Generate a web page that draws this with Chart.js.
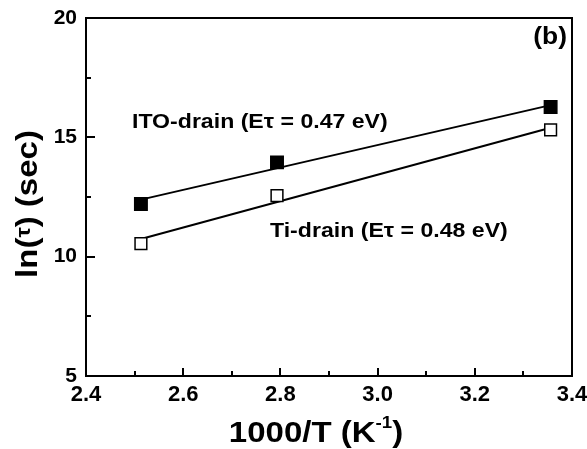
<!DOCTYPE html>
<html>
<head>
<meta charset="utf-8">
<script src="https://cdn.jsdelivr.net/npm/chart.js@4"></script>
<style>
  html, body { margin: 0; padding: 0; background: #fff; }
  #wrap { width: 587px; height: 449px; }
</style>
</head>
<body>
<div id="wrap"><canvas id="chart" width="587" height="449"></canvas></div>
<script>
// data
const invT = [2.513, 2.793, 3.356];
const itoTau = [12.21, 13.95, 16.27];
const tiTau = [10.55, 12.56, 15.31];
// fitted lines, end points only
const fitX = [2.513, 3.356];
const itoFit = [12.39, 16.35];
const tiFit = [10.74, 15.40];

const xTicks = [2.4, 2.6, 2.8, 3.0, 3.2, 3.4];
const yTicks = [5, 10, 15, 20];

const FONT = "'Liberation Sans', Arial, sans-serif";
const WIDE = 1.1; // reference glyphs run a bit wider than Liberation Sans

const toPoints = (xs, ys) => xs.map((x, i) => ({ x: x, y: ys[i] }));

// draws text stretched sideways, left edge at x
const wideText = (ctx, str, x, y) => {
    ctx.save();
    ctx.translate(x, y);
    ctx.scale(WIDE, 1);
    ctx.fillText(str, 0, 0);
    ctx.restore();
};

const frameAndText = {
    id: "frameAndText",
    afterDraw(chart) {
        const ctx = chart.ctx;
        const a = chart.chartArea;
        const xs = chart.scales.x;
        const ys = chart.scales.y;
        ctx.save();
        ctx.strokeStyle = "#000";
        ctx.lineWidth = 2;
        ctx.strokeRect(a.left, a.top, a.right - a.left, a.bottom - a.top);

        // inward ticks on bottom and left
        ctx.beginPath();
        for (let v = 2.5; v < 3.4; v += 0.1) {
            const px = Math.round(xs.getPixelForValue(v));
            const major = Math.abs(Math.round(v * 10) % 2) === 0;
            ctx.moveTo(px, a.bottom);
            ctx.lineTo(px, a.bottom - (major ? 8 : 5));
        }
        for (let v = 7.5; v < 20; v += 2.5) {
            const py = Math.round(ys.getPixelForValue(v));
            const major = v % 5 === 0;
            ctx.moveTo(a.left, py);
            ctx.lineTo(a.left + (major ? 9 : 5), py);
        }
        ctx.stroke();

        ctx.fillStyle = "#000";
        ctx.textBaseline = "alphabetic";
        ctx.textAlign = "left";
        ctx.font = "bold 21px " + FONT;
        wideText(ctx, "ITO-drain (E\u03c4 = 0.47 eV)", 132, 128);
        wideText(ctx, "Ti-drain (E\u03c4 = 0.48 eV)", 270, 237);
        ctx.font = "bold 24px " + FONT;
        const wb = ctx.measureText("(b)").width * WIDE;
        wideText(ctx, "(b)", 567 - wb, 44);

        // x axis title
        ctx.font = "bold 30px " + FONT;
        const t1 = "1000/T (K";
        const w1 = ctx.measureText(t1).width * WIDE;
        ctx.font = "bold 17px " + FONT;
        const wSup = ctx.measureText("-1").width * WIDE;
        ctx.font = "bold 30px " + FONT;
        const w2 = ctx.measureText(")").width * WIDE;
        let x0 = 316 - (w1 + wSup + w2) / 2;
        wideText(ctx, t1, x0, 442);
        ctx.font = "bold 17px " + FONT;
        wideText(ctx, "-1", x0 + w1, 428);
        ctx.font = "bold 30px " + FONT;
        wideText(ctx, ")", x0 + w1 + wSup, 442);

        // y axis title
        ctx.translate(37, 204);
        ctx.rotate(-Math.PI / 2);
        const p1 = "ln(", p2 = "\u03c4", p3 = ") (sec)";
        ctx.font = "bold 30px " + FONT;
        const a1 = ctx.measureText(p1).width * WIDE;
        const a3 = ctx.measureText(p3).width * WIDE;
        ctx.font = "bold 21px " + FONT;
        const a2 = ctx.measureText(p2).width * WIDE;
        let s = -(a1 + a2 + a3) / 2;
        ctx.font = "bold 30px " + FONT;
        wideText(ctx, p1, s, 0);
        ctx.font = "bold 21px " + FONT;
        wideText(ctx, p2, s + a1, -7);
        ctx.font = "bold 30px " + FONT;
        wideText(ctx, p3, s + a1 + a2, 0);
        ctx.restore();
    }
};

const chart = new Chart(document.getElementById("chart"), {
    type: "scatter",
    data: {
        datasets: [
            {
                label: "ITO fit",
                data: toPoints(fitX, itoFit),
                showLine: true,
                borderColor: "#000",
                borderWidth: 2,
                pointRadius: 0,
                order: 3
            },
            {
                label: "Ti fit",
                data: toPoints(fitX, tiFit),
                showLine: true,
                borderColor: "#000",
                borderWidth: 2,
                pointRadius: 0,
                order: 3
            },
            {
                label: "ITO-drain",
                data: toPoints(invT, itoTau),
                pointStyle: "rect",
                pointRadius: 8.8,
                backgroundColor: "#000",
                borderColor: "#000",
                borderWidth: 1.5,
                order: 1
            },
            {
                label: "Ti-drain",
                data: toPoints(invT, tiTau),
                pointStyle: "rect",
                pointRadius: 8.3,
                backgroundColor: "#fff",
                borderColor: "#000",
                borderWidth: 1.5,
                order: 1
            }
        ]
    },
    options: {
        responsive: false,
        animation: false,
        devicePixelRatio: 1,
        layout: { padding: { left: 0, top: 18, right: 15, bottom: 0 } },
        plugins: {
            legend: { display: false },
            tooltip: { enabled: false }
        },
        scales: {
            x: {
                type: "linear",
                min: 2.4,
                max: 3.4,
                afterBuildTicks: (scale) => { scale.ticks = xTicks.map(v => ({ value: v })); },
                afterFit: (scale) => {
                    scale.height = 73;
                    scale.paddingLeft = 0;
                    scale.paddingRight = 0;
                },
                ticks: {
                    color: "#000",
                    padding: 6,
                    maxRotation: 0,
                    autoSkip: false,
                    font: { family: FONT, size: 22, weight: "bold" },
                    callback: (v) => v.toFixed(1)
                },
                grid: { drawOnChartArea: false, drawTicks: false },
                border: { display: false }
            },
            y: {
                type: "linear",
                min: 5,
                max: 20,
                afterBuildTicks: (scale) => { scale.ticks = yTicks.map(v => ({ value: v })); },
                afterFit: (scale) => {
                    scale.width = 86;
                    scale.paddingTop = 0;
                    scale.paddingBottom = 0;
                },
                ticks: {
                    color: "#000",
                    padding: 9,
                    autoSkip: false,
                    font: { family: FONT, size: 21, weight: "bold" },
                    callback: (v) => String(v)
                },
                grid: { drawOnChartArea: false, drawTicks: false },
                border: { display: false }
            }
        }
    },
    plugins: [frameAndText]
});
</script>
</body>
</html>
